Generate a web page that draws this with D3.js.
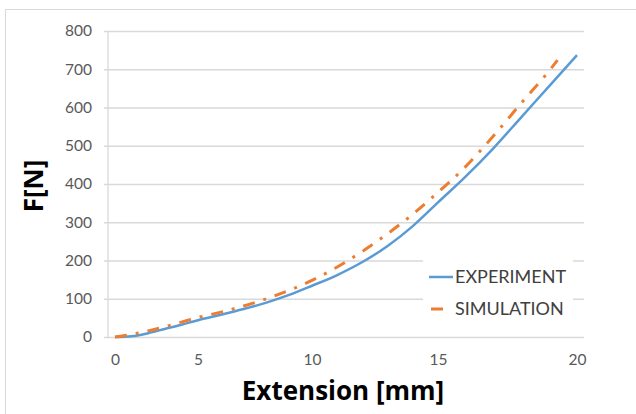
<!DOCTYPE html>
<html>
<head>
<meta charset="utf-8">
<script src="https://cdn.jsdelivr.net/npm/d3@7"></script>
<style>
  body { margin: 0; background: #fff; }
  svg { display: block; }
</style>
</head>
<body>
<svg></svg>
<script>
        // Chart dimensions
        const width = 636;
        const height = 414;

        // Data
        const expX = [0, 1, 2, 3, 4, 5, 6, 7, 8, 9, 10, 11, 12, 13, 14, 15, 16, 17, 18, 19, 20];
        const expF = [0, 2, 10, 21, 32, 44, 58, 73, 90, 110, 134, 162, 196, 238, 290, 352, 420, 494, 575, 656, 737];
        const simX = [0, 1, 2, 3, 4, 5, 6, 7, 8, 9, 10, 11, 12, 13, 14, 15, 16, 17, 18, 19, 19.3];
        const simF = [0, 7, 16, 27, 39, 51, 65, 81, 100, 122, 148, 183, 224, 270, 321, 378, 446, 526, 612, 696, 724];
        const xTicks = [0, 5, 10, 15, 20];
        const yTicks = [0, 100, 200, 300, 400, 500, 600, 700, 800];
        const seriesNames = ['EXPERIMENT', 'SIMULATION'];

        const colors = ['#5b9bd5', '#ed7d31'];
        const gridColor = '#d9d9d9';
        const tickColor = '#595959';

        const svg = d3.select("svg")
            .attr("width", width)
            .attr("height", height);

        // outer chart border
        svg.append("rect")
            .attr("x", 5.5).attr("y", 9.5)
            .attr("width", 700).attr("height", 500)
            .attr("fill", "#fff")
            .attr("stroke", gridColor);

        // x axis is a category-style axis, ticks are not evenly spaced
        const x = d3.scaleLinear()
            .domain(xTicks)
            .range([115, 198, 312, 438, 577]);

        const y = d3.scaleLinear()
            .domain([0, 800])
            .range([337, 31]);

        const plotLeft = 108, plotRight = 584;

        // horizontal gridlines + y labels
        svg.append("g")
            .attr("transform", `translate(${plotLeft},0)`)
            .call(d3.axisLeft(y).tickValues(yTicks).tickSize(-(plotRight - plotLeft)).tickPadding(16).tickFormat(d3.format("d")))
            .call(g => g.select(".domain").remove())
            .call(g => g.selectAll(".tick line").attr("stroke", gridColor).attr("stroke-width", 1.3).attr("x1", -4))
            .call(g => g.selectAll(".tick text")
                .attr("fill", tickColor)
                .style("font-family", "Lato, sans-serif")
                .style("font-size", "15.5px"));

        // vertical axis line
        svg.append("line")
            .attr("x1", plotLeft).attr("x2", plotLeft)
            .attr("y1", y(800)).attr("y2", y(0))
            .attr("stroke", gridColor).attr("stroke-width", 1.3);

        // x tick labels
        svg.append("g")
            .attr("transform", `translate(0,${y(0)})`)
            .call(d3.axisBottom(x).tickValues(xTicks).tickSize(0).tickPadding(17))
            .call(g => g.select(".domain").remove())
            .call(g => g.selectAll(".tick text")
                .attr("fill", tickColor)
                .style("font-family", "Lato, sans-serif")
                .style("font-size", "15.5px"));

        const line = d3.line()
            .x(d => x(d[0]))
            .y(d => y(d[1]))
            .curve(d3.curveMonotoneX);

        svg.append("path")
            .datum(expX.map((v, i) => [v, expF[i]]))
            .attr("d", line)
            .attr("fill", "none")
            .attr("stroke", colors[0])
            .attr("stroke-width", 2.5);

        svg.append("path")
            .datum(simX.map((v, i) => [v, simF[i]]))
            .attr("d", line)
            .attr("fill", "none")
            .attr("stroke", colors[1])
            .attr("stroke-width", 3)
            .attr("stroke-dasharray", "12,9,3,9");

        // legend (white box covers gridlines)
        svg.append("rect")
            .attr("x", 423).attr("y", 252)
            .attr("width", 150).attr("height", 72)
            .attr("fill", "#fff");

        const legend = svg.selectAll(".legend")
            .data(seriesNames)
            .join("g")
            .attr("class", "legend")
            .attr("transform", (d, i) => `translate(429,${277 + i * 32})`);

        legend.append("line")
            .attr("x1", (d, i) => i === 0 ? 0 : 2)
            .attr("x2", (d, i) => i === 0 ? 24 : 14)
            .attr("stroke", (d, i) => colors[i])
            .attr("stroke-width", (d, i) => i === 0 ? 2.5 : 3);

        legend.append("text")
            .attr("x", 26)
            .attr("dy", "0.36em")
            .attr("fill", "#404040")
            .style("font-family", "Lato, sans-serif")
            .style("font-size", "18px")
            .text(d => d);

        // axis titles
        svg.append("text")
            .attr("x", 343)
            .attr("y", 400)
            .attr("text-anchor", "middle")
            .style("font-family", "'Open Sans', sans-serif")
            .style("font-size", "26px")
            .style("font-weight", "bold")
            .text("Extension [mm]");

        svg.append("text")
            .attr("transform", "translate(43,186) rotate(-90)")
            .attr("text-anchor", "middle")
            .style("font-family", "'Open Sans', sans-serif")
            .style("font-size", "26px")
            .style("font-weight", "bold")
            .text("F[N]");
</script>
</body>
</html>
